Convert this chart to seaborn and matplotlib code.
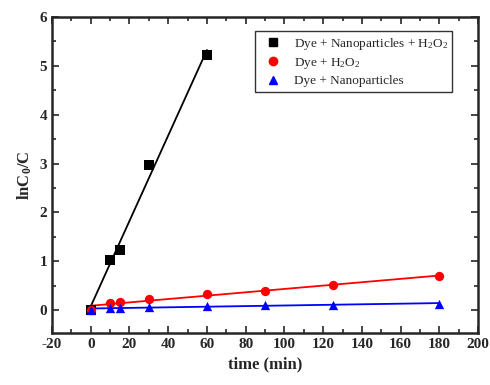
import numpy as np
import pandas as pd
import matplotlib
matplotlib.use("Agg")
import matplotlib.pyplot as plt
import seaborn as sns
from matplotlib.ticker import MultipleLocator
from matplotlib.lines import Line2D

# data
t_np = [0, 10, 15, 30, 60]
y_np_h2o2 = [0.0, 1.03, 1.22, 2.96, 5.22]

t_long = [0, 10, 15, 30, 60, 90, 125, 180]
y_h2o2 = [0.0, 0.15, 0.17, 0.22, 0.32, 0.39, 0.51, 0.70]
y_np = [0.0, 0.04, 0.05, 0.06, 0.08, 0.10, 0.11, 0.13]

labels = ["Dye + Nanoparticles + H$_2$O$_2$", "Dye + H$_2$O$_2$", "Dye + Nanoparticles"]

sns.set_style("ticks")
plt.rcParams['font.family'] = ['Liberation Serif', 'DejaVu Serif']
plt.rcParams['mathtext.default'] = 'regular'
plt.rcParams['axes.unicode_minus'] = False

fig = plt.figure(figsize=(4.9, 3.85), dpi=100)
ax = fig.add_axes([0.106, 0.135, 0.870, 0.821])

series = [
    (t_np, y_np_h2o2, 's', 'black', labels[0]),
    (t_long, y_h2o2, 'o', 'red', labels[1]),
    (t_long, y_np, '^', 'blue', labels[2]),
]
handles = []
for x, y, m, c, lab in series:
    sns.regplot(x=np.array(x), y=np.array(y), ax=ax, ci=None, marker=m, color=c,
                scatter_kws={'s': 45, 'alpha': 1, 'linewidths': 0, 'zorder': 3},
                line_kws={'lw': 1.3})
    handles.append(Line2D([], [], marker=m, color=c, ls='none', markersize=6, label=lab))

ax.set_xlim(-20, 200)
ax.set_ylim(-0.47, 6)
ax.xaxis.set_major_locator(MultipleLocator(20))
ax.xaxis.set_minor_locator(MultipleLocator(10))
ax.yaxis.set_major_locator(MultipleLocator(1))
ax.yaxis.set_minor_locator(MultipleLocator(0.5))
ax.tick_params(which='both', direction='in', top=True, right=True, width=1.2)
ax.tick_params(which='major', length=5)
ax.tick_params(which='minor', length=3)
for lab in ax.get_xticklabels() + ax.get_yticklabels():
    lab.set_fontweight('bold')
    lab.set_fontsize(11)
for s in ax.spines.values():
    s.set_linewidth(1.8)

ax.set_xlabel("time (min)", fontsize=12, fontweight='bold')
ax.set_ylabel("lnC$_0$/C", fontsize=12, fontweight='bold')

leg = ax.legend(handles=handles, loc='upper right', bbox_to_anchor=(0.955, 0.975),
                frameon=True, fancybox=False, edgecolor='black', fontsize=9.5,
                handletextpad=0.6, borderpad=0.35, labelspacing=0.3)
leg.get_frame().set_linewidth(1.0)

fig.savefig("out.png", dpi=100)
